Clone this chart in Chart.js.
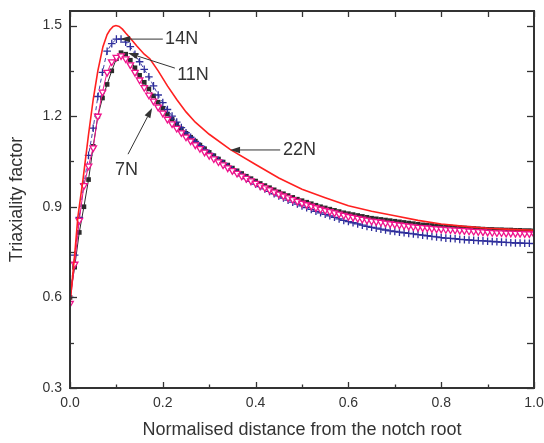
<!DOCTYPE html>
<html><head><meta charset="utf-8">
<script src="https://cdn.jsdelivr.net/npm/chart.js@4/dist/chart.umd.min.js"></script>
<style>html,body{margin:0;padding:0;background:#fff}canvas{display:block}</style>
</head><body>
<canvas id="c" width="544" height="443"></canvas>
<script>
const xValues = [0,0.01,0.02,0.03,0.04,0.05,0.06,0.07,0.08,0.09,0.10,0.11,0.12,0.13,0.14,0.15,0.16,0.17,0.18,0.19,0.20,0.21,0.22,0.23,0.24,0.25,0.26,0.27,0.28,0.29,0.30,0.31,0.32,0.33,0.34,0.35,0.36,0.37,0.38,0.39,0.40,0.41,0.42,0.43,0.44,0.45,0.46,0.47,0.48,0.49,0.50,0.51,0.52,0.53,0.54,0.55,0.56,0.57,0.58,0.59,0.60,0.61,0.62,0.63,0.64,0.65,0.66,0.67,0.68,0.69,0.70,0.71,0.72,0.73,0.74,0.75,0.76,0.77,0.78,0.79,0.80,0.81,0.82,0.83,0.84,0.85,0.86,0.87,0.88,0.89,0.90,0.91,0.92,0.93,0.94,0.95,0.96,0.97,0.98,0.99,1.00];

const n11Values = [0.60,0.70,0.815,0.90,0.99,1.10,1.20,1.26,1.305,1.35,1.39,1.41,1.405,1.385,1.36,1.335,1.312,1.29,1.267,1.246,1.226,1.207,1.19,1.173,1.158,1.143,1.13,1.117,1.104,1.092,1.08,1.069,1.058,1.048,1.038,1.028,1.019,1.01,1.001,0.993,0.985,0.977,0.97,0.963,0.956,0.949,0.943,0.937,0.931,0.925,0.92,0.915,0.91,0.905,0.90,0.896,0.892,0.888,0.884,0.88,0.877,0.874,0.871,0.868,0.865,0.862,0.86,0.858,0.856,0.854,0.852,0.85,0.848,0.846,0.844,0.842,0.84,0.839,0.838,0.836,0.835,0.834,0.833,0.832,0.831,0.83,0.829,0.828,0.827,0.826,0.825,0.825,0.824,0.824,0.823,0.823,0.822,0.822,0.821,0.821,0.82];

const n7Values = [0.58,0.71,0.855,0.97,1.035,1.095,1.20,1.28,1.345,1.38,1.395,1.40,1.39,1.37,1.345,1.32,1.295,1.27,1.25,1.23,1.21,1.19,1.175,1.16,1.145,1.131,1.118,1.105,1.093,1.081,1.07,1.059,1.049,1.039,1.029,1.02,1.011,1.002,0.994,0.986,0.978,0.97,0.963,0.956,0.949,0.942,0.936,0.93,0.924,0.918,0.912,0.907,0.902,0.897,0.892,0.888,0.884,0.88,0.876,0.872,0.868,0.865,0.862,0.859,0.856,0.853,0.851,0.849,0.846,0.844,0.842,0.84,0.838,0.836,0.834,0.832,0.831,0.83,0.828,0.827,0.826,0.825,0.824,0.823,0.822,0.821,0.82,0.819,0.818,0.817,0.816,0.815,0.814,0.814,0.813,0.813,0.812,0.812,0.811,0.811,0.81];

const n14Values = [0.60,0.74,0.865,0.975,1.07,1.16,1.265,1.345,1.415,1.44,1.455,1.455,1.445,1.43,1.405,1.38,1.355,1.33,1.30,1.27,1.245,1.222,1.20,1.18,1.162,1.145,1.13,1.116,1.102,1.089,1.077,1.065,1.054,1.043,1.032,1.022,1.012,1.002,0.993,0.984,0.975,0.967,0.959,0.951,0.943,0.936,0.929,0.922,0.915,0.909,0.903,0.897,0.891,0.885,0.88,0.875,0.87,0.865,0.86,0.855,0.851,0.847,0.843,0.839,0.835,0.832,0.829,0.826,0.823,0.82,0.818,0.816,0.814,0.812,0.81,0.808,0.806,0.804,0.802,0.80,0.798,0.796,0.795,0.794,0.792,0.791,0.79,0.789,0.788,0.787,0.786,0.785,0.784,0.783,0.782,0.781,0.78,0.78,0.779,0.779,0.778];

const n22X = [0,0.01,0.017,0.028,0.04,0.05,0.06,0.071,0.08,0.086,0.093,0.099,0.106,0.113,0.12,0.13,0.144,0.16,0.172,0.19,0.21,0.23,0.25,0.27,0.30,0.345,0.40,0.45,0.50,0.55,0.60,0.65,0.70,0.75,0.80,0.85,0.90,0.95,1.00];
const n22Values = [0.58,0.74,0.867,0.99,1.14,1.255,1.35,1.43,1.47,1.485,1.497,1.50,1.497,1.488,1.475,1.458,1.432,1.405,1.39,1.35,1.30,1.255,1.214,1.18,1.14,1.09,1.04,0.995,0.958,0.93,0.903,0.885,0.87,0.855,0.843,0.835,0.829,0.825,0.822];

const xTicks = [0,0.2,0.4,0.6,0.8,1.0];
const xMinorTicks = [0.1,0.3,0.5,0.7,0.9];
const yTicks = [0.3,0.6,0.9,1.2,1.5];
const yMinorTicks = [0.45,0.75,1.05,1.35];
const seriesNames = ['7N','11N','14N','22N'];

const notes = [
  {text:'14N', tx:0.205, ty:1.455, fx:0.200, fy:1.455, hx:0.108, hy:1.455},
  {text:'11N', tx:0.231, ty:1.336, fx:0.226, fy:1.359, hx:0.125, hy:1.409},
  {text:'7N',  tx:0.097, ty:1.021, fx:0.125, fy:1.074, hx:0.177, hy:1.227},
  {text:'22N', tx:0.459, ty:1.088, fx:0.453, fy:1.088, hx:0.345, hy:1.088}
];

const FONT = "'Liberation Sans', Arial, sans-serif";

const framePlugin = {
  id:'frame',
  afterDraw(chart){
    const {ctx, chartArea:a, scales:{x,y}} = chart;
    ctx.save();
    ctx.strokeStyle = '#333';
    ctx.lineWidth = 1.3;
    const allX = xTicks.concat(xMinorTicks);
    allX.forEach(v=>{
      const px = Math.round(x.getPixelForValue(v))+0.5;
      const major = xTicks.includes(v);
      ctx.beginPath(); ctx.moveTo(px, a.bottom); ctx.lineTo(px, a.bottom-(major?6:3.5)); ctx.stroke();
      ctx.beginPath(); ctx.moveTo(px, a.top); ctx.lineTo(px, a.top+6); ctx.stroke();
    });
    const allY = yTicks.concat(yMinorTicks);
    allY.forEach(v=>{
      const py = Math.round(y.getPixelForValue(v))+0.5;
      const major = yTicks.includes(v);
      ctx.beginPath(); ctx.moveTo(a.left, py); ctx.lineTo(a.left+(major?7:4), py); ctx.stroke();
      ctx.beginPath(); ctx.moveTo(a.right, py); ctx.lineTo(a.right-7, py); ctx.stroke();
    });
    ctx.lineWidth = 2;
    ctx.strokeRect(a.left, a.top, a.right-a.left, a.bottom-a.top);
    ctx.restore();
  }
};

const notePlugin = {
  id:'notes',
  afterDatasetsDraw(chart){
    const {ctx, scales:{x,y}} = chart;
    ctx.save();
    ctx.strokeStyle = '#333'; ctx.fillStyle = '#333'; ctx.lineWidth = 1;
    notes.forEach(n=>{
      const fx = x.getPixelForValue(n.fx), fy = y.getPixelForValue(n.fy);
      const hx = x.getPixelForValue(n.hx), hy = y.getPixelForValue(n.hy);
      const ang = Math.atan2(hy-fy, hx-fx);
      const L = 10, W = 3.2;
      const bx = hx - L*Math.cos(ang), by = hy - L*Math.sin(ang);
      ctx.beginPath(); ctx.moveTo(fx, fy); ctx.lineTo(bx, by); ctx.stroke();
      ctx.beginPath();
      ctx.moveTo(hx, hy);
      ctx.lineTo(bx + W*Math.sin(ang), by - W*Math.cos(ang));
      ctx.lineTo(bx - W*Math.sin(ang), by + W*Math.cos(ang));
      ctx.closePath(); ctx.fill();
      ctx.font = '18px ' + FONT;
      ctx.textAlign = 'left'; ctx.textBaseline = 'middle';
      ctx.fillText(n.text, x.getPixelForValue(n.tx), y.getPixelForValue(n.ty));
    });
    ctx.restore();
  }
};

const pts = (xs, ys) => xs.map((v,i)=>({x:v, y:ys[i]}));
const noPad = s => { s.paddingTop = 0; s.paddingBottom = 0; s.paddingLeft = 0; s.paddingRight = 0; };

new Chart(document.getElementById('c'), {
  type:'scatter',
  data:{
    datasets:[
      {label:seriesNames[1], data:pts(xValues,n11Values), showLine:true, borderColor:'#2b2b2b', borderWidth:1,
       pointStyle:'rect', pointRadius:3.3, pointBackgroundColor:'#2b2b2b', pointBorderColor:'#2b2b2b', pointBorderWidth:0, order:4},
      {label:seriesNames[2], data:pts(xValues,n14Values), showLine:true, borderColor:'rgba(45,45,155,0.9)', borderWidth:1, borderDash:[4,3],
       pointStyle:'cross', pointRadius:3.8, pointBorderColor:'#2d2d9b', pointBorderWidth:1.3, order:3},
      {label:seriesNames[0], data:pts(xValues,n7Values), showLine:true, borderColor:'#f0148c', borderWidth:1,
       pointStyle:'triangle', pointRotation:180, pointRadius:3.8, pointBackgroundColor:'#ffffff', pointBorderColor:'#f0148c', pointBorderWidth:1.3, order:2},
      {label:seriesNames[3], data:pts(n22X,n22Values), showLine:true, borderColor:'#ff2020', borderWidth:1.6,
       pointRadius:0, order:1}
    ]
  },
  options:{
    responsive:false, animation:false, events:[],
    layout:{padding:{top:11, right:10, left:0, bottom:0}},
    plugins:{legend:{display:false}, tooltip:{enabled:false}},
    scales:{
      x:{type:'linear', min:0, max:1,
        afterBuildTicks:s=>{ s.ticks = xTicks.map(v=>({value:v})); },
        afterFit:s=>{ s.height = 55; noPad(s); },
        grid:{display:false, drawTicks:false}, border:{display:false},
        ticks:{callback:v=>Number(v).toFixed(1), font:{family:FONT, size:14}, color:'#333', padding:7, maxRotation:0},
        title:{display:true, text:'Normalised distance from the notch root', font:{family:FONT, size:18}, color:'#333', padding:{top:2,bottom:2}}
      },
      y:{type:'linear', min:0.3, max:1.548,
        afterBuildTicks:s=>{ s.ticks = yTicks.map(v=>({value:v})); },
        afterFit:s=>{ s.width = 70; noPad(s); },
        grid:{display:false, drawTicks:false}, border:{display:false},
        ticks:{callback:v=>Number(v).toFixed(1), font:{family:FONT, size:14}, color:'#333', padding:8},
        title:{display:true, text:'Triaxiality factor', font:{family:FONT, size:18}, color:'#333', padding:{top:6,bottom:2}}
      }
    }
  },
  plugins:[framePlugin, notePlugin]
});
</script>
</body></html>
